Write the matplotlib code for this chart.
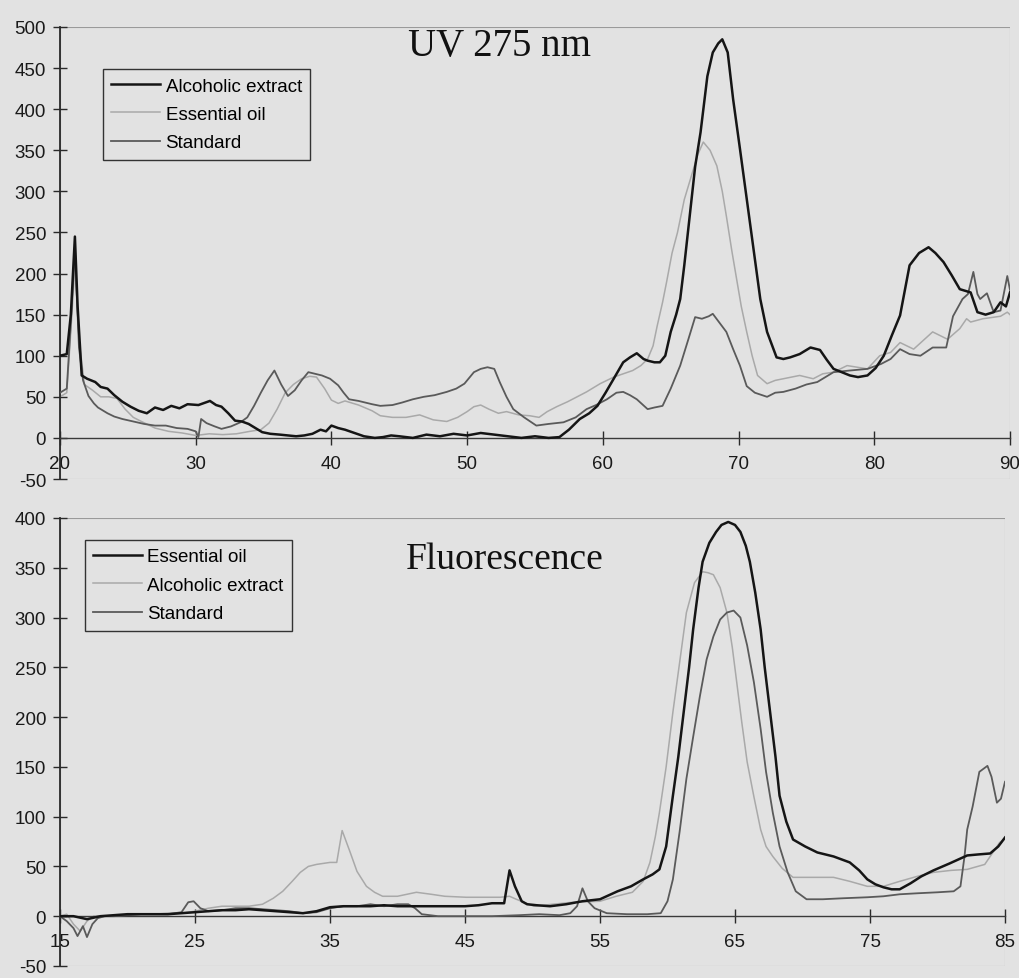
import matplotlib
matplotlib.use("Agg")
import matplotlib.pyplot as plt
from matplotlib.patches import Rectangle

# ---------------- UV 275 nm panel ----------------
uv_alc_x = [20, 20.5, 20.8, 21.1, 21.3, 21.6, 22.0, 22.6, 23.0, 23.5, 24.0, 24.6, 25.2, 25.8, 26.4, 27.0,
            27.6, 28.2, 28.8, 29.4, 30.2, 31.05, 31.5, 31.9, 32.4, 32.9, 33.4, 33.9, 34.4, 34.9, 35.5, 36.2,
            36.8, 37.4, 38.0, 38.6, 39.2, 39.6, 40.0, 40.5, 41.0, 41.7, 42.4, 43.2, 43.8, 44.4, 45.0, 46,
            47, 48, 49, 50, 51, 52, 53, 54, 55, 56, 56.8, 57.5, 58.3, 59.0, 59.6, 60.2, 60.8, 61.5, 62.0,
            62.5, 63.0, 63.3, 63.8, 64.2, 64.6, 65.0, 65.4, 65.7, 66.0, 66.4, 66.8, 67.2, 67.7, 68.1, 68.5,
            68.8, 69.2, 69.6, 70.1, 70.6, 71.1, 71.6, 72.1, 72.8, 73.3, 73.8, 74.5, 75.3, 76.0, 76.5, 77.0,
            77.6, 78.2, 78.8, 79.5, 80.1, 80.7, 81.3, 81.9, 82.6, 83.3, 84.0, 84.5, 85.1, 85.7, 86.3, 87.1,
            87.6, 88.2, 88.8, 89.3, 89.7, 90.0]
uv_alc_y = [100, 102, 150, 245, 160, 76, 72, 68, 62, 60, 52, 44, 38, 33, 30, 37,
            34, 39, 36, 41, 40, 45, 40, 38, 30, 21, 20, 17, 12, 7, 5, 4,
            3, 2, 3, 5, 10, 8, 15, 12, 10, 6, 2, 0, 1, 3, 2, 0,
            4, 2, 5, 3, 6, 4, 2, 0, 2, 0, 1, 10, 23, 30, 39, 55, 72, 92, 98,
            103, 96, 94, 92, 92, 100, 129, 150, 169, 210, 270, 330, 372, 440, 469, 480,
            485, 469, 412, 352, 291, 230, 169, 129, 98, 96, 98, 102, 110, 107, 95, 84,
            80, 76, 74, 76, 85, 100, 125, 149, 210, 225, 232, 225, 214, 198, 181, 177,
            153, 150, 153, 165, 160, 177]

uv_oil_x = [20, 20.5, 20.8, 21.1, 21.4, 21.8, 22.4, 23.0, 23.6, 24.2, 24.8, 25.4, 26, 27, 28, 29, 30, 31,
            32, 33, 34, 34.8, 35.4, 36.0, 36.6, 37.2, 37.8, 38.4, 38.9, 39.5, 40.0, 40.5, 41, 42, 43, 43.6,
            44.5, 45.5, 46.5, 47.5, 48.5, 49.3, 50.0, 50.5, 51.0, 51.6, 52.3, 52.9, 53.8, 54.6, 55.3, 55.9,
            56.6, 57.4, 58.1, 58.8, 59.8, 60.8, 61.5, 62.2, 62.8, 63.3, 63.7, 64.0, 64.4, 64.7, 65.1, 65.5,
            66.0, 66.6, 67.0, 67.4, 67.9, 68.4, 68.8, 69.1, 69.5, 69.9, 70.2, 70.6, 71.0, 71.4, 72.1, 72.7,
            73.3, 74.5, 75.5, 76.2, 77.0, 78.0, 79.5, 80.4, 81.2, 81.9, 82.9, 84.3, 85.4, 86.3, 86.8, 87.1,
            88.0, 89.3, 89.8, 90]
uv_oil_y = [50, 55, 130, 210, 120, 65, 58, 50, 50, 48, 35, 25, 20, 12, 8, 6, 3, 5,
            4, 5, 8, 10, 18, 35, 55, 65, 72, 75, 74, 60, 46, 42, 45, 40, 33, 27,
            25, 25, 28, 22, 20, 25, 32, 38, 40, 35, 30, 32, 28, 27, 25, 32,
            38, 44, 50, 56, 66, 74, 78, 82, 88, 96, 112, 136, 165, 190, 225, 250,
            290, 323, 345, 360, 350, 331, 300, 270, 228, 189, 160, 129, 100, 76, 66, 70,
            72, 76, 72, 78, 80, 88, 84, 100, 104, 116, 108, 129, 120, 133, 145, 141,
            145, 148, 153, 150]

uv_std_x = [20, 20.5, 20.8, 21.1, 21.4, 21.7, 22.1, 22.5, 22.8, 23.5, 24.0, 24.6, 25.4, 26.2, 27.0, 27.8,
            28.6, 29.4, 30.0, 30.2, 30.4, 30.8, 31.4, 31.9, 32.6, 33.3, 33.8, 34.3, 34.8, 35.3, 35.8, 36.3,
            36.8, 37.3, 37.8, 38.3, 38.8, 39.3, 39.9, 40.5, 40.9, 41.3, 42.0, 43.0, 43.6, 44.5, 45.2, 46.0,
            46.8, 47.6, 48.5, 49.2, 49.8, 50.5, 51.0, 51.5, 52.0, 52.4, 52.9, 53.4, 54.2, 55.1, 56.0, 57.1,
            58.0, 58.8, 59.5, 60.3, 61.0, 61.5, 62.0, 62.5, 63.3, 63.8, 64.4, 65.0, 65.7, 66.3, 66.8, 67.3,
            67.8, 68.1, 68.6, 69.1, 69.6, 70.1, 70.6, 71.2, 72.1, 72.7, 73.3, 74.2, 75.0, 75.8, 77.0, 78.2,
            79.5, 80.5, 81.2, 81.9, 82.6, 83.4, 84.3, 85.3, 85.8, 86.5, 86.9, 87.3, 87.6, 87.8, 88.3, 88.8,
            89.3, 89.8, 90]
uv_std_y = [55, 60, 140, 230, 110, 70, 51, 42, 37, 30, 26, 23, 20, 17, 15, 15,
            12, 11, 8, 1, 23, 18, 14, 11, 14, 19, 25, 39, 55, 70, 82, 65,
            51, 58, 70, 80, 78, 76, 72, 64, 55, 47, 45, 41, 39, 40, 43, 47,
            50, 52, 56, 60, 66, 80, 84, 86, 84, 68, 50, 35, 25, 15, 17, 19,
            25, 35, 40, 47, 55, 56, 52, 47, 35, 37, 39, 60, 88, 120, 147, 145,
            148, 151, 140, 129, 108, 88, 63, 55, 50, 55, 56, 60, 65, 68, 80, 82,
            84, 90, 96, 108, 102, 100, 110, 110, 148, 169, 175, 202, 175, 169, 176, 153,
            155, 197, 180]

# ---------------- Fluorescence panel ----------------
fl_oil_x = [15, 16, 17, 18, 19, 20, 21, 22, 23, 24, 25, 26, 27, 28, 29, 30, 31, 32, 33, 34, 35, 36, 37,
            38, 39, 40, 41, 42, 43, 44, 45, 46, 47, 47.9, 48.3, 48.7, 49.2, 49.6, 50.3, 51.3, 52.5, 53.7,
            55.0, 56.3, 57.3, 58.2, 58.9, 59.4, 59.9, 60.4, 60.8, 61.2, 61.6, 61.9, 62.3, 62.6, 63.1, 63.6,
            64.0, 64.5, 65.0, 65.4, 65.8, 66.1, 66.5, 66.9, 67.2, 67.6, 68.0, 68.3, 68.8, 69.3, 70.2, 71.1,
            72.3, 73.5, 74.2, 74.8, 75.4, 76.0, 76.6, 77.2, 78.0, 78.8, 79.7, 80.9, 82.2, 83.0, 83.9, 84.5, 85]
fl_oil_y = [0, 0, -3, 0, 1, 2, 2, 2, 2, 3, 4, 5, 6, 6, 7, 6, 5, 4, 3, 5, 9, 10, 10,
            10, 11, 10, 10, 10, 10, 10, 10, 11, 13, 13, 46, 30, 15, 12, 11, 10, 12, 15,
            17, 25, 30, 37, 42, 47, 70, 121, 160, 205, 250, 288, 330, 356, 375, 386,
            393, 396, 393, 386, 372, 356, 325, 288, 250, 205, 160, 121, 95, 77, 70, 64,
            60, 54, 46, 37, 32, 29, 27, 27, 33, 40, 46, 53, 61, 62, 63, 70, 79]

fl_alc_x = [15, 15.5, 16, 16.5, 17, 17.5, 18, 19, 20, 21, 22, 23, 24, 25, 26, 27, 28, 29, 30, 30.8, 31.5,
            32.2, 32.8, 33.4, 34.0, 35.0, 35.5, 35.9, 36.2, 36.5, 37.0, 37.7, 38.3, 38.9, 40, 41.4, 42.5,
            43.5, 45.1, 46.5, 47.6, 48.3, 48.8, 50.1, 51.5, 53, 55, 56.2, 57.4, 58.2, 58.7, 59.1, 59.4, 59.9,
            60.4, 60.9, 61.4, 62.0, 62.6, 63.0, 63.4, 63.9, 64.4, 64.8, 65.1, 65.5, 65.9, 66.4, 66.9, 67.3,
            67.8, 68.5, 69.3, 70.5, 72.3, 73.5, 74.8, 76.0, 77.2, 78.5, 79.7, 81.0, 82.2, 83.5, 84.6, 85]
fl_alc_y = [0, 2, -8, -15, -5, 0, 0, 0, 1, 2, 2, 3, 3, 5, 8, 10, 10, 10, 12, 18, 25,
            35, 44, 50, 52, 54, 54, 86, 75, 64, 45, 30, 24, 20, 20, 24, 22,
            20, 19, 19, 19, 20, 17, 10, 12, 14, 15, 20, 24, 35, 54, 80, 104, 150,
            205, 255, 305, 335, 346, 345, 343, 330, 305, 270, 238, 195, 155, 120, 87, 70,
            60, 48, 39, 39, 39, 35, 30, 30, 35, 40, 44, 46, 47, 52, 74, 78]

fl_std_x = [15, 15.5, 16, 16.3, 16.7, 17.0, 17.4, 17.8, 18.3, 19, 20, 21, 22, 23, 24, 24.5, 24.9, 25.4,
            26, 27, 28, 29, 30, 31, 32, 33, 34, 35, 36, 37, 38, 39, 40, 40.8, 41.3, 41.8, 43, 45, 47, 49,
            50.5, 52, 52.8, 53.3, 53.7, 54.1, 54.6, 55.5, 57, 58.5, 59.5, 60.0, 60.4, 60.9, 61.4, 61.9,
            62.4, 62.9, 63.4, 63.9, 64.4, 64.9, 65.4, 65.9, 66.4, 66.9, 67.3, 67.8, 68.3, 68.9, 69.5, 70.3,
            71.5, 73, 74.8, 76, 77.2, 78.5, 80, 81.2, 81.7, 82.0, 82.2, 82.6, 83.1, 83.4, 83.7, 84.0, 84.4,
            84.7, 85]
fl_std_y = [0, -5, -12, -20, -10, -21, -8, -2, 0, 0, 1, 2, 2, 2, 4, 14, 15, 8,
            5, 6, 8, 8, 7, 6, 5, 3, 4, 8, 10, 10, 12, 10, 12, 12, 8, 2, 0, 0, 0, 1,
            2, 1, 3, 10, 28, 15, 8, 3, 2, 2, 3, 15, 37, 85, 138, 180,
            221, 258, 281, 298, 305, 307, 300, 272, 235, 188, 145, 104, 70, 44, 25, 17,
            17, 18, 19, 20, 22, 23, 24, 25, 30, 60, 87, 110, 145, 148, 151, 140, 114,
            118, 135]

uv_xticks = [20, 30, 40, 50, 60, 70, 80, 90]
uv_yticks = [-50, 0, 50, 100, 150, 200, 250, 300, 350, 400, 450, 500]
fl_xticks = [15, 25, 35, 45, 55, 65, 75, 85]
fl_yticks = [-50, 0, 50, 100, 150, 200, 250, 300, 350, 400]

BLACK = "#151515"
LIGHT = "#a9a9a9"
MID = "#5a5a5a"
BG = "#e2e2e2"

plt.rcParams['font.family'] = ['Liberation Sans', 'DejaVu Sans']
plt.rcParams['axes.unicode_minus'] = False

fig = plt.figure(figsize=(10.20, 9.79), dpi=100, facecolor=BG)
ax1 = fig.add_axes([0.0588, 0.5097, 0.9314, 0.4617])
ax2 = fig.add_axes([0.0588, 0.0123, 0.9265, 0.4576])


def style(ax, xlim, ylim, xticks, yticks):
    ax.set_facecolor('none')
    ax.set_xlim(*xlim)
    ax.set_ylim(*ylim)
    ax.set_xticks(xticks)
    ax.set_yticks(yticks)
    ax.spines['top'].set_visible(False)
    ax.spines['right'].set_visible(False)
    ax.spines['bottom'].set_position(('data', 0))
    ax.spines['bottom'].set_color('#3a3a3a')
    ax.spines['bottom'].set_linewidth(1.0)
    ax.spines['left'].set_color('#2a2a2a')
    ax.spines['left'].set_linewidth(1.3)
    ax.tick_params(axis='both', direction='inout', length=10, width=1.0, colors='#2a2a2a',
                   labelsize=13.5, labelcolor='#1a1a1a')
    ax.tick_params(axis='x', pad=7)
    ax.tick_params(axis='y', pad=5)
    ax.add_patch(Rectangle((0, 0), 1, 1, transform=ax.transAxes, fill=False,
                           edgecolor='#9a9a9a', linewidth=0.8, zorder=0))


style(ax1, (20, 90), (-50, 500), uv_xticks, uv_yticks)
ax1.plot(uv_alc_x, uv_alc_y, color=BLACK, lw=1.8, label='Alcoholic extract', zorder=4)
ax1.plot(uv_oil_x, uv_oil_y, color=LIGHT, lw=1.1, label='Essential oil', zorder=2)
ax1.plot(uv_std_x, uv_std_y, color=MID, lw=1.3, label='Standard', zorder=3)
ax1.text(0.463, 0.958, 'UV 275 nm', transform=ax1.transAxes, ha='center', va='center',
         fontsize=28, family=['Liberation Serif', 'DejaVu Serif'], color='#111111')
leg1 = ax1.legend(loc='upper left', bbox_to_anchor=(0.045, 0.907), borderaxespad=0,
                  fontsize=13.5, fancybox=False, handlelength=2.6, handletextpad=0.3,
                  labelspacing=0.6, borderpad=0.45, framealpha=1)
leg1.get_frame().set_facecolor('none')
leg1.get_frame().set_edgecolor('#333333')
leg1.get_frame().set_linewidth(1.0)

style(ax2, (15, 85), (-50, 400), fl_xticks, fl_yticks)
ax2.plot(fl_oil_x, fl_oil_y, color=BLACK, lw=1.8, label='Essential oil', zorder=4)
ax2.plot(fl_alc_x, fl_alc_y, color=LIGHT, lw=1.1, label='Alcoholic extract', zorder=2)
ax2.plot(fl_std_x, fl_std_y, color=MID, lw=1.3, label='Standard', zorder=3)
ax2.text(0.471, 0.908, 'Fluorescence', transform=ax2.transAxes, ha='center', va='center',
         fontsize=27, family=['Liberation Serif', 'DejaVu Serif'], color='#111111')
leg2 = ax2.legend(loc='upper left', bbox_to_anchor=(0.026, 0.951), borderaxespad=0,
                  fontsize=13.5, fancybox=False, handlelength=2.6, handletextpad=0.3,
                  labelspacing=0.6, borderpad=0.45, framealpha=1)
leg2.get_frame().set_facecolor('none')
leg2.get_frame().set_edgecolor('#333333')
leg2.get_frame().set_linewidth(1.0)

fig.savefig('out.png', dpi=100, facecolor=BG)
